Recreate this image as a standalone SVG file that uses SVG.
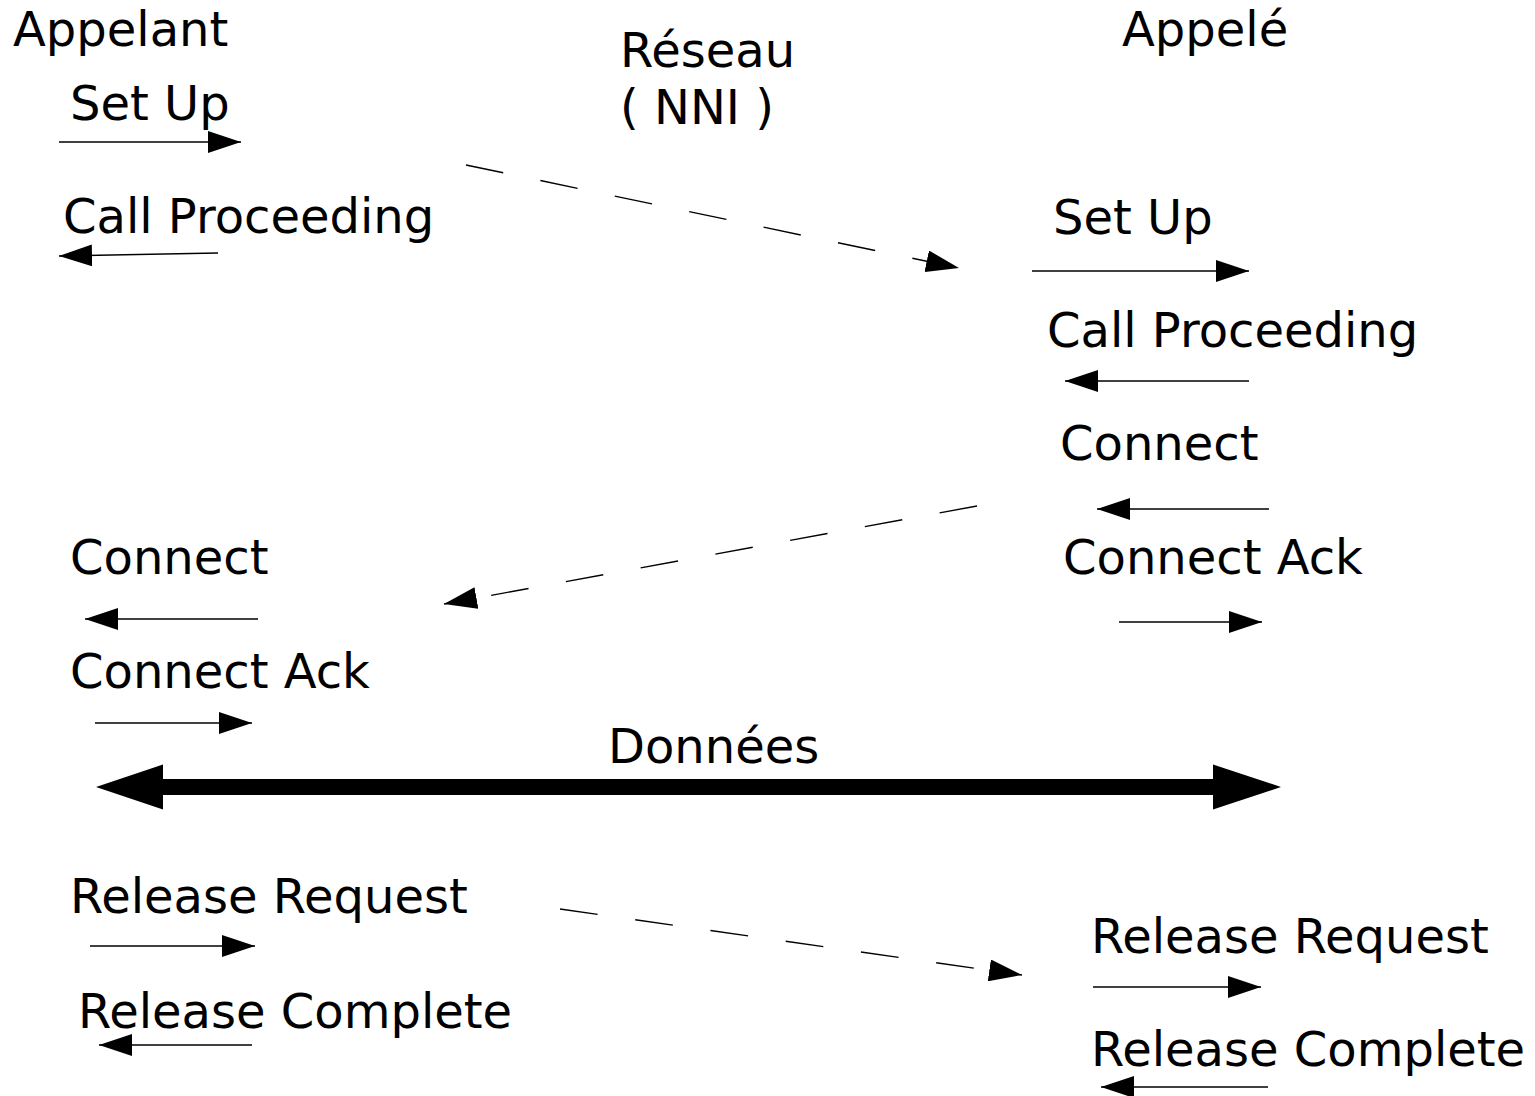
<svg xmlns="http://www.w3.org/2000/svg" width="1535" height="1096" viewBox="0 0 1535 1096">
<defs>
<style>
text{font-family:"DejaVu Sans","Liberation Sans",sans-serif;font-size:48px;fill:#000}
.a{stroke:#000;stroke-width:1.4;fill:none;marker-end:url(#ah)}
.d{stroke:#000;stroke-width:1.4;fill:none;stroke-dasharray:38 38;marker-end:url(#ah)}
</style>
<marker id="ah" markerUnits="userSpaceOnUse" markerWidth="34" markerHeight="22" refX="33" refY="11" orient="auto" viewBox="0 0 34 22">
<path d="M0,0 L33,11 L0,22 Z" fill="#000"/>
</marker>
</defs>
<rect width="1535" height="1096" fill="#fff"/>
<g id="headers">
<text id="appelant" x="13" y="46">Appelant</text>
<text id="reseau" x="620" y="67">Réseau</text>
<text id="nni" x="620" y="124">( NNI )</text>
<text id="appele" x="1122" y="46">Appelé</text>
</g>
<g id="labels">
<text x="70" y="120">Set Up</text>
<text x="63" y="233">Call Proceeding</text>
<text x="1053" y="234">Set Up</text>
<text x="1047" y="347">Call Proceeding</text>
<text x="1060" y="460">Connect</text>
<text x="1063" y="574">Connect Ack</text>
<text x="70" y="574">Connect</text>
<text x="70" y="688">Connect Ack</text>
<text x="608" y="763">Données</text>
<text x="70" y="913">Release Request</text>
<text x="78" y="1028">Release Complete</text>
<text x="1091" y="953">Release Request</text>
<text x="1091" y="1066">Release Complete</text>
</g>
<g id="connectors">
<line class="a" x1="59" y1="142" x2="241" y2="142"/>
<line class="a" x1="218" y1="253" x2="59" y2="256"/>
<line class="d" x1="466" y1="165" x2="959" y2="268"/>
<line class="a" x1="1032" y1="271" x2="1249" y2="271"/>
<line class="a" x1="1249" y1="381" x2="1065" y2="381"/>
<line class="a" x1="1269" y1="509" x2="1097" y2="509"/>
<line class="d" x1="977" y1="506" x2="444" y2="604"/>
<line class="a" x1="1119" y1="622" x2="1262" y2="622"/>
<line class="a" x1="258" y1="619" x2="85" y2="619"/>
<line class="a" x1="95" y1="723" x2="252" y2="723"/>
<polygon points="96,787 163,764.5 163,779 1213,779 1213,764.5 1281,787 1213,809.5 1213,795 163,795 163,809.5" fill="#000"/>
<line class="d" x1="560" y1="909" x2="1022" y2="975"/>
<line class="a" x1="90" y1="946" x2="255" y2="946"/>
<line class="a" x1="252" y1="1045" x2="99" y2="1045"/>
<line class="a" x1="1093" y1="987" x2="1261" y2="987"/>
<line class="a" x1="1268" y1="1087" x2="1101" y2="1087"/>
</g>
</svg>
